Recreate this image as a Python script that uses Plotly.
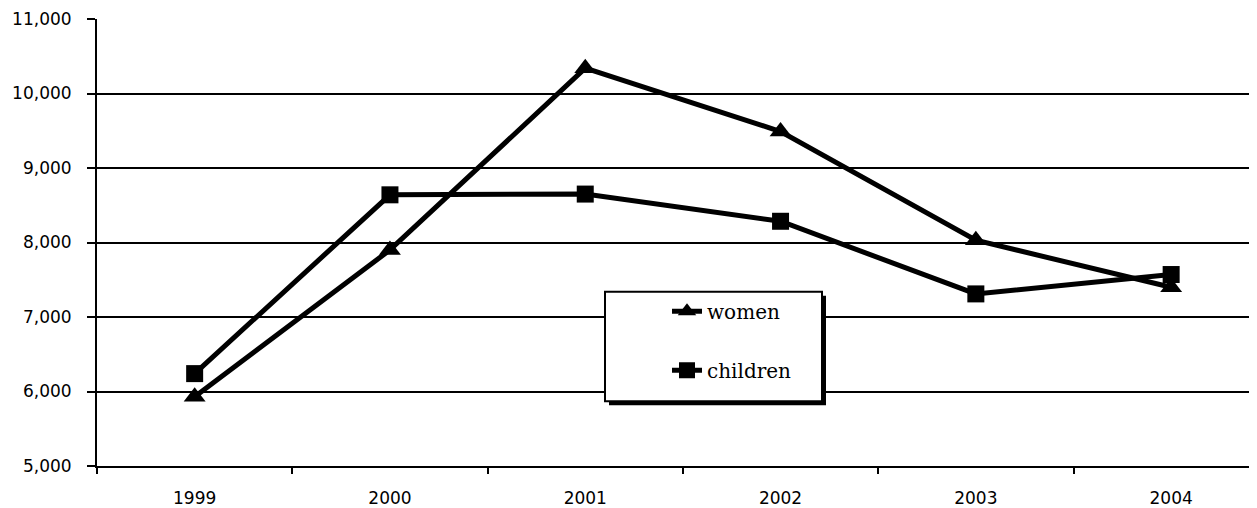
import plotly.graph_objects as go

years = ["1999", "2000", "2001", "2002", "2003", "2004"]
women = [5930, 7900, 10340, 9490, 8030, 7400]
children = [6240, 8640, 8650, 8285, 7310, 7570]
y_ticks = [5000, 6000, 7000, 8000, 9000, 10000, 11000]
y_tick_labels = ["5,000", "6,000", "7,000", "8,000", "9,000", "10,000", "11,000"]

# the page body adds an 8px offset; size the figure so it fills the window
OFF = 8
W, H = 1257 - OFF, 508 - OFF
# target plot area in window pixels: left 97, top 19, bottom 468, right 1257
ml, mt = 97 - OFF, 19 - OFF
mr = 0
mb = H - (468 - OFF)
pw = W - ml - mr
ph = H - mt - mb
cat_w = 195.3

def px_x(p):  # window px -> paper
    return (p - OFF - ml) / pw

def px_y(p):
    return 1 - (p - OFF - mt) / ph

fig = go.Figure()
fig.add_trace(go.Scatter(
    x=years, y=women, name="women", mode="lines+markers",
    line=dict(color="black", width=5),
    marker=dict(symbol="triangle-up", size=19, color="black"),
    legendgroup="w",
))
fig.add_trace(go.Scatter(
    x=years, y=children, name="children", mode="lines+markers",
    line=dict(color="black", width=5),
    marker=dict(symbol="square", size=17, color="black"),
    legendgroup="c",
))

# legend frame with shadow
bx0, bx1, by0, by1 = 605, 822, 293, 403
fig.add_shape(type="rect", xref="paper", yref="paper",
              x0=px_x(bx0 + 4), x1=px_x(bx1 + 4), y0=px_y(by1 + 4), y1=px_y(by0 + 4),
              fillcolor="black", line=dict(width=0), layer="above")
fig.add_shape(type="rect", xref="paper", yref="paper",
              x0=px_x(bx0), x1=px_x(bx1), y0=px_y(by1), y1=px_y(by0),
              fillcolor="white", line=dict(color="black", width=2), layer="above")

tick_font = dict(family="DejaVu Sans", size=17, color="black")

fig.update_layout(
    width=W, height=H,
    margin=dict(l=ml, r=mr, t=mt, b=mb, pad=0),
    plot_bgcolor="white", paper_bgcolor="white",
    showlegend=True,
    legend=dict(
        x=px_x(667), y=px_y(293), xanchor="left", yanchor="top",
        bgcolor="rgba(0,0,0,0)", borderwidth=0,
        font=dict(family="DejaVu Serif", size=20, color="black"),
        tracegroupgap=30, traceorder="grouped",
    ),
    xaxis=dict(
        type="category", range=[-0.5, -0.5 + pw / cat_w],
        showgrid=False, showline=True, linecolor="black", linewidth=2,
        ticks="outside", ticklen=6, tickwidth=2, tickcolor="black",
        tickson="boundaries", tickfont=tick_font, ticklabelstandoff=16,
        zeroline=False,
    ),
    yaxis=dict(
        range=[5000, 11000], tickvals=y_ticks, ticktext=y_tick_labels,
        showgrid=True, gridcolor="black", gridwidth=2,
        showline=True, linecolor="black", linewidth=2,
        ticks="outside", ticklen=8, tickwidth=2, tickcolor="black",
        tickfont=tick_font, ticklabelstandoff=12, zeroline=False,
    ),
)

fig.write_html("out.html")
